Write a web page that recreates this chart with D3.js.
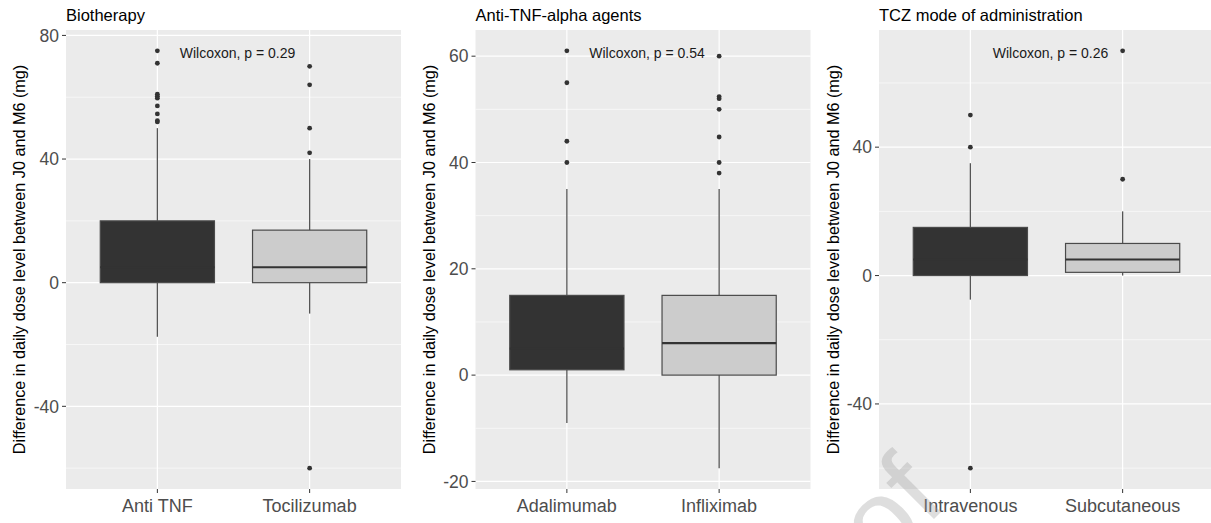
<html>
<head>
    <style>
        body { margin: 0; background: #fff; }
        svg { font-family: 'Liberation Sans', Arial, sans-serif; }
    </style>
</head>
<body>
<svg width='1211' height='523'></svg>
<script src='https://cdnjs.cloudflare.com/ajax/libs/d3/7.8.5/d3.min.js'></script>
<script>
    const titles = ['Biotherapy', 'Anti-TNF-alpha agents', 'TCZ mode of administration'];
    const groups = [
        ['Anti TNF', 'Tocilizumab'],
        ['Adalimumab', 'Infliximab'],
        ['Intravenous', 'Subcutaneous']
    ];
    const pValues = ['0.29', '0.54', '0.26'];

    // [lower whisker, q1, median, q3, upper whisker]
    const biotherapyStats = [[-17.5, 0, 5, 20, 50], [-10, 0, 5, 17, 40]];
    const antiTnfStats = [[-9, 1, 5, 15, 35], [-17.5, 0, 6, 15, 35]];
    const tczStats = [[-7.5, 0, 5, 15, 35], [0, 1, 5, 10, 20]];

    const biotherapyOutliers = [[75, 71, 61, 60.3, 59.7, 57.2, 54.6, 52.4, 52], [70, 64, 50, 42, -60]];
    const antiTnfOutliers = [[61, 55, 44, 40], [60, 52.4, 52, 50, 44.8, 40, 38]];
    const tczOutliers = [[50, 40, -60], [70, 30]];

    const yTicks = [[-40, 0, 40, 80], [-20, 0, 20, 40, 60], [-40, 0, 40]];

    const stats = [biotherapyStats, antiTnfStats, tczStats];
    const outliers = [biotherapyOutliers, antiTnfOutliers, tczOutliers];
    const fills = ['#333333', '#cccccc'];

    const svg = d3.select('svg');
    const panelLefts = [66, 475.5, 879];
    const panelWidth = 335;
    const panelTop = 30, panelBottom = 489;
    const yLabelX = [19, 429, 833];

    titles.forEach((title, p) => {
        const left = panelLefts[p];
        const g = svg.append('g');

        const values = stats[p].flat().concat(outliers[p].flat());
        const lo = d3.min(values), hi = d3.max(values);
        const pad = (hi - lo) * 0.05;
        const y = d3.scaleLinear().domain([lo - pad, hi + pad]).range([panelBottom, panelTop]);

        // ggplot discrete axis: 0.6 unit expansion each side, box width 0.75
        const x = d3.scalePoint().domain(groups[p]).range([left, left + panelWidth]).padding(0.6);
        const cx = i => x(groups[p][i]);
        const boxW = x.step() * 0.75;

        g.append('rect')
            .attr('x', left).attr('y', panelTop)
            .attr('width', panelWidth).attr('height', panelBottom - panelTop)
            .attr('fill', '#ebebeb');

        const majors = yTicks[p];
        const step = majors[1] - majors[0];
        const minors = d3.range(majors[0] - step / 2, y.domain()[1], step)
            .filter(v => v > y.domain()[0]);

        g.selectAll('.minor').data(minors).enter().append('line')
            .attr('x1', left).attr('x2', left + panelWidth)
            .attr('y1', d => y(d)).attr('y2', d => y(d))
            .attr('stroke', '#fff').attr('stroke-width', 0.6);

        g.selectAll('.major').data(majors).enter().append('line')
            .attr('x1', left).attr('x2', left + panelWidth)
            .attr('y1', d => y(d)).attr('y2', d => y(d))
            .attr('stroke', '#fff').attr('stroke-width', 1.2);

        g.selectAll('.vmajor').data(groups[p]).enter().append('line')
            .attr('x1', d => x(d)).attr('x2', d => x(d))
            .attr('y1', panelTop).attr('y2', panelBottom)
            .attr('stroke', '#fff').attr('stroke-width', 1.2);

        stats[p].forEach((s, i) => {
            const [wLo, q1, med, q3, wHi] = s;
            g.append('line')
                .attr('x1', cx(i)).attr('x2', cx(i))
                .attr('y1', y(wHi)).attr('y2', y(q3))
                .attr('stroke', '#555').attr('stroke-width', 1.3);
            g.append('line')
                .attr('x1', cx(i)).attr('x2', cx(i))
                .attr('y1', y(q1)).attr('y2', y(wLo))
                .attr('stroke', '#555').attr('stroke-width', 1.3);
            g.append('rect')
                .attr('x', cx(i) - boxW / 2).attr('y', y(q3))
                .attr('width', boxW).attr('height', y(q1) - y(q3))
                .attr('fill', fills[i])
                .attr('stroke', '#4a4a4a').attr('stroke-width', 1.2);
            g.append('line')
                .attr('x1', cx(i) - boxW / 2).attr('x2', cx(i) + boxW / 2)
                .attr('y1', y(med)).attr('y2', y(med))
                .attr('stroke', '#333').attr('stroke-width', 2.2);

            g.selectAll('.pt' + i).data(outliers[p][i]).enter().append('circle')
                .attr('cx', cx(i)).attr('cy', d => y(d))
                .attr('r', 2.4).attr('fill', '#333');
        });

        g.selectAll('.ytick').data(majors).enter().append('line')
            .attr('x1', left - 4).attr('x2', left)
            .attr('y1', d => y(d)).attr('y2', d => y(d))
            .attr('stroke', '#333').attr('stroke-width', 1);
        g.selectAll('.ylab').data(majors).enter().append('text')
            .attr('x', left - 7).attr('y', d => y(d))
            .attr('dy', '0.36em')
            .attr('text-anchor', 'end')
            .attr('font-size', 17.5)
            .attr('fill', '#4d4d4d')
            .text(d => d);

        g.selectAll('.xtick').data(groups[p]).enter().append('line')
            .attr('x1', d => x(d)).attr('x2', d => x(d))
            .attr('y1', panelBottom).attr('y2', panelBottom + 4)
            .attr('stroke', '#333').attr('stroke-width', 1);
        g.selectAll('.xlab').data(groups[p]).enter().append('text')
            .attr('x', d => x(d)).attr('y', 512)
            .attr('text-anchor', 'middle')
            .attr('font-size', 18)
            .attr('fill', '#4d4d4d')
            .text(d => d);

        g.append('text')
            .attr('transform', `translate(${yLabelX[p]},${(panelTop + panelBottom) / 2}) rotate(-90)`)
            .attr('dy', '0.35em')
            .attr('text-anchor', 'middle')
            .attr('font-size', 16.2)
            .attr('fill', '#000')
            .text('Difference in daily dose level between J0 and M6 (mg)');

        g.append('text')
            .attr('x', left).attr('y', 20.5)
            .attr('font-size', 16.5)
            .attr('fill', '#000')
            .text(title);

        g.append('text')
            .attr('x', (cx(0) + cx(1)) / 2 + 4).attr('y', panelTop + 28)
            .attr('text-anchor', 'middle')
            .attr('font-size', 14)
            .attr('fill', '#1a1a1a')
            .text('Wilcoxon, p = ' + pValues[p]);
    });

    // page watermark, only its tail shows in the crop
    svg.append('text')
        .attr('transform', 'translate(949,504) rotate(-45)')
        .attr('text-anchor', 'end')
        .attr('font-size', 112)
        .attr('fill', '#a0a0a0')
        .attr('fill-opacity', 0.35)
        .text('Journal Pre-proof');
</script>
</body>
</html>
